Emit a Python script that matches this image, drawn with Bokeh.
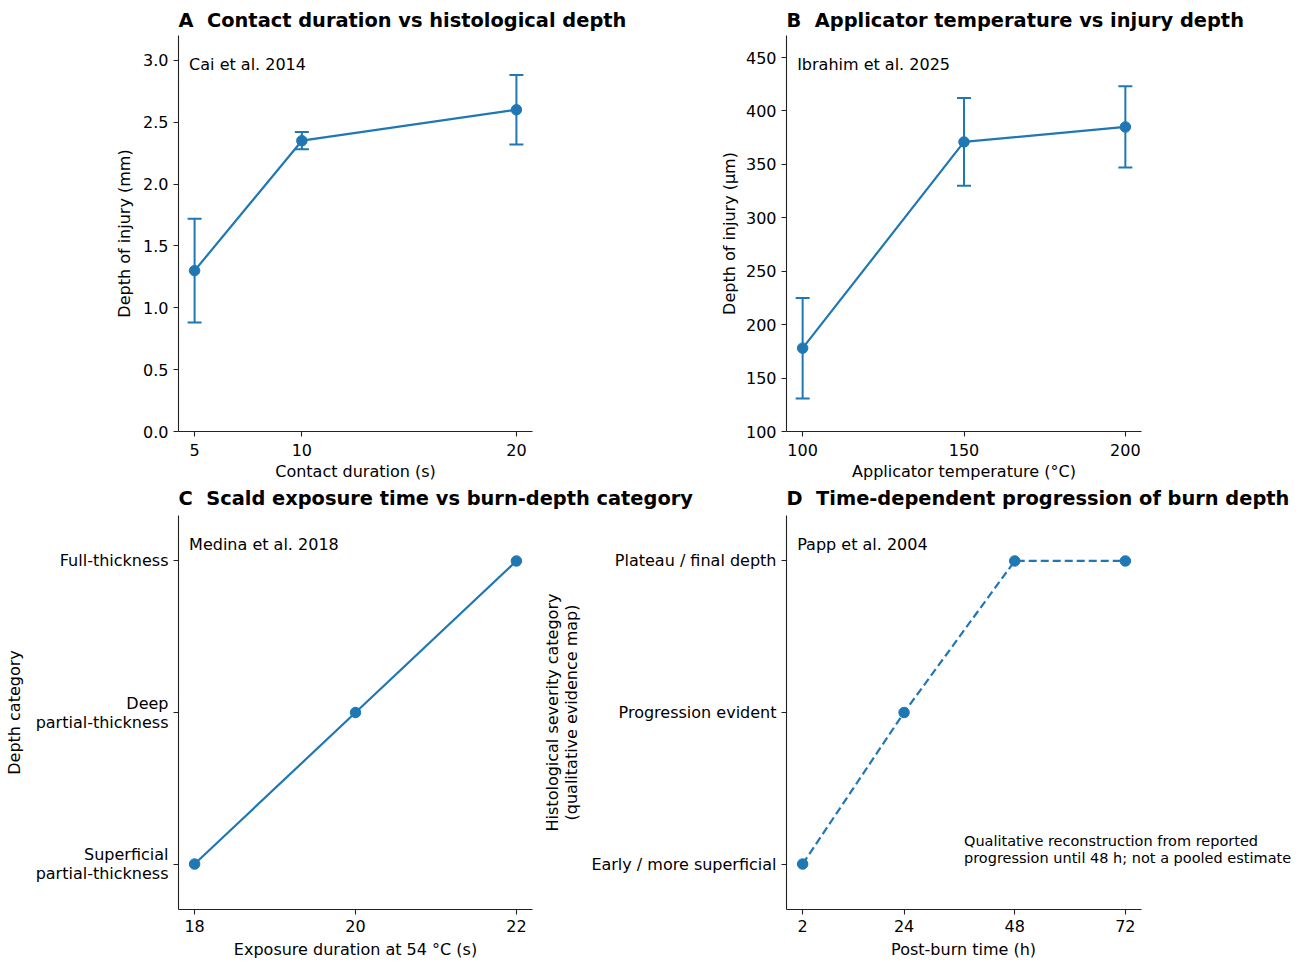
from bokeh.plotting import figure
from bokeh.models import ColumnDataSource, Whisker, TeeHead, Label, Title, FixedTicker, Range1d
from bokeh.layouts import column, row
from bokeh.embed import file_html
from bokeh.resources import INLINE

BLUE = "#1f77b4"
FONT = "DejaVu Sans"
AXC = "#222222"

# ---- data ----
contact_s = [5, 10, 20]
depth_mm = [1.30, 2.35, 2.60]
err_mm = [0.42, 0.07, 0.28]

temp_c = [100, 150, 200]
depth_um = [178, 371, 385]
err_um = [47, 41, 38]

exposure_s = [18, 20, 22]
scald_cat = [0, 1, 2]
scald_labels = ["Superficial\npartial-thickness", "Deep\npartial-thickness", "Full-thickness"]

time_h = [2, 24, 48, 72]
prog_cat = [0, 1, 2, 2]
prog_labels = ["Early / more superficial", "Progression evident", "Plateau / final depth"]

NB = "\u00a0 "
titles = ["A" + NB + "Contact duration vs histological depth",
          "B" + NB + "Applicator temperature vs injury depth",
          "C" + NB + "Scald exposure time vs burn-depth category",
          "D" + NB + "Time-dependent progression of burn depth"]
citations = ["Cai et al. 2014", "Ibrahim et al. 2025", "Medina et al. 2018", "Papp et al. 2004"]
note_text = "Qualitative reconstruction from reported\nprogression until 48 h; not a pooled estimate"
d_xlabel = "Post-burn time (h)"


def make_fig(w, h, xr, yr, bl, br, bt, bb, ylab_standoff, title=None):
    p = figure(width=w, height=h, x_range=Range1d(*xr), y_range=Range1d(*yr),
               output_backend="svg", toolbar_location=None,
               min_border_left=bl, min_border_right=br, min_border_top=bt, min_border_bottom=bb)
    p.outline_line_color = None
    p.grid.visible = False
    p.background_fill_color = "white"
    p.border_fill_color = "white"
    for ax in (p.xaxis[0], p.yaxis[0]):
        ax.axis_line_color = AXC
        ax.axis_line_width = 1.1
        ax.major_tick_line_color = AXC
        ax.major_tick_line_width = 1.1
        ax.major_tick_out = 5
        ax.major_tick_in = 0
        ax.minor_tick_out = 0
        ax.minor_tick_in = 0
        ax.major_label_text_font = FONT
        ax.major_label_text_font_size = "16px"
        ax.major_label_text_color = "black"
        ax.axis_label_text_font = FONT
        ax.axis_label_text_font_size = "16px"
        ax.axis_label_text_font_style = "normal"
        ax.axis_label_text_color = "black"
    p.xaxis.major_label_standoff = 7
    p.xaxis.axis_label_standoff = 3
    p.yaxis.major_label_standoff = 5
    p.yaxis.axis_label_standoff = ylab_standoff
    if title is not None:
        p.title.text = title
        p.title.align = "left"
        p.title.text_font = FONT
        p.title.text_font_size = "19.4px"
        p.title.text_font_style = "bold"
        p.title.text_color = "black"
        p.title.standoff = 8
    return p


def add_title_below(p, text, size="19.4px", style="bold", standoff=2, offset=0):
    t = Title(text=text, align="left", text_font=FONT, text_font_size=size,
              text_font_style=style, text_color="black", standoff=standoff, offset=offset)
    p.add_layout(t, "below")


def cite(p, xr, yr, text):
    x = xr[0] + 0.03 * (xr[1] - xr[0])
    y = yr[0] + 0.95 * (yr[1] - yr[0])
    p.add_layout(Label(x=x, y=y, text=text, text_font=FONT, text_font_size="16px",
                       text_color="black", text_baseline="top", text_align="left"))


def err_panel(p, xs, ys, es):
    src = ColumnDataSource(dict(x=xs, y=ys, upper=[a + b for a, b in zip(ys, es)],
                                lower=[a - b for a, b in zip(ys, es)]))
    p.line("x", "y", source=src, line_color=BLUE, line_width=2.2)
    w = Whisker(base="x", upper="upper", lower="lower", source=src, dimension="height",
                line_color=BLUE, line_width=2.0,
                upper_head=TeeHead(size=14, line_color=BLUE, line_width=2.0),
                lower_head=TeeHead(size=14, line_color=BLUE, line_width=2.0))
    w.level = "glyph"
    p.add_layout(w)
    p.scatter("x", "y", source=src, size=10.5, fill_color=BLUE, line_color=BLUE)


# layout geometry (frame width of the right column in px)
FW_R = 355

# ---- Panel A ----
xrA, yrA = (4.25, 20.75), (0.0, 3.2)
pA = make_fig(700, 515, xrA, yrA, 178, 168, 35, 84, 6, titles[0])
err_panel(pA, contact_s, depth_mm, err_mm)
pA.xaxis.ticker = FixedTicker(ticks=contact_s)
pA.yaxis.ticker = FixedTicker(ticks=[0.0, 0.5, 1.0, 1.5, 2.0, 2.5, 3.0])
pA.yaxis.major_label_overrides = {0: "0.0", 1: "1.0", 2: "2.0", 3: "3.0"}
pA.xaxis.axis_label = "Contact duration (s)"
pA.yaxis.axis_label = "Depth of injury (mm)"
cite(pA, xrA, yrA, citations[0])
add_title_below(pA, titles[2])

# ---- Panel B ----
xrB, yrB = (95, 205), (100, 470.6)
pB = make_fig(600, 515, xrB, yrB, 86, 159, 35, 84, 4, titles[1])
err_panel(pB, temp_c, depth_um, err_um)
pB.xaxis.ticker = FixedTicker(ticks=temp_c)
pB.yaxis.ticker = FixedTicker(ticks=[100, 150, 200, 250, 300, 350, 400, 450])
pB.xaxis.axis_label = "Applicator temperature (°C)"
pB.yaxis.axis_label = "Depth of injury (µm)"
cite(pB, xrB, yrB, citations[1])
add_title_below(pB, titles[3])

# ---- Panel C ----
xrC, yrC = (17.8, 22.2), (-0.3, 2.3)
pC = make_fig(537, 447, xrC, yrC, 178, 5, 0, 53, 9)
pC.xaxis.major_label_standoff = 5
pC.xaxis.axis_label_standoff = 5
pC.line(exposure_s, scald_cat, line_color=BLUE, line_width=2.2)
pC.scatter(exposure_s, scald_cat, size=10.5, fill_color=BLUE, line_color=BLUE)
pC.xaxis.ticker = FixedTicker(ticks=exposure_s)
pC.yaxis.ticker = FixedTicker(ticks=scald_cat)
pC.yaxis.major_label_overrides = {i: s for i, s in enumerate(scald_labels)}
pC.yaxis.major_label_text_line_height = 1.0
pC.xaxis.axis_label = "Exposure duration at 54 °C (s)"
pC.yaxis.axis_label = "Depth category"
cite(pC, xrC, yrC, citations[2])

# ---- Panel D ----
# the frame is widened to the right so the note may extend past the axis end;
# the visible axis is limited to the original data range with bounds
xrD_axis, yrD = (-1.5, 75.5), (-0.3, 2.3)
D_W, D_BL, D_BR = 763, 249, 4
px_per_unit = FW_R / (xrD_axis[1] - xrD_axis[0])
xrD = (xrD_axis[0], xrD_axis[0] + (D_W - D_BL - D_BR) / px_per_unit)
pD = make_fig(D_W, 447, xrD, yrD, D_BL, D_BR, 0, 53, 7)
pD.xaxis.major_label_standoff = 5
pD.line(time_h, prog_cat, line_color=BLUE, line_width=2.2, line_dash="8 4")
pD.scatter(time_h, prog_cat, size=10.5, fill_color=BLUE, line_color=BLUE)
pD.xaxis.ticker = FixedTicker(ticks=time_h)
pD.xaxis.bounds = xrD_axis
pD.yaxis.ticker = FixedTicker(ticks=[0, 1, 2])
pD.yaxis.major_label_overrides = {i: s for i, s in enumerate(prog_labels)}
pD.yaxis.axis_label = "Histological severity category\n(qualitative evidence map)"
pD.yaxis.axis_label_text_line_height = 1.0
# x-axis label centred under the visible axis (DejaVu Sans width ~9.11 em)
label_w = 9.11 * 16
add_title_below(pD, d_xlabel, size="16px", style="normal", standoff=6,
                offset=FW_R / 2 - label_w / 2)
cite(pD, xrD_axis, yrD, citations[3])
pD.add_layout(Label(x=xrD_axis[0] + 0.5 * (xrD_axis[1] - xrD_axis[0]),
                    y=yrD[0] + 0.11 * (yrD[1] - yrD[0]),
                    text=note_text, text_font=FONT, text_font_size="14.5px", text_color="black",
                    text_baseline="bottom", text_align="left", text_line_height=1.05))

layout = column(row(pA, pB), row(pC, pD))
open("out.html", "w").write(file_html(layout, INLINE))
